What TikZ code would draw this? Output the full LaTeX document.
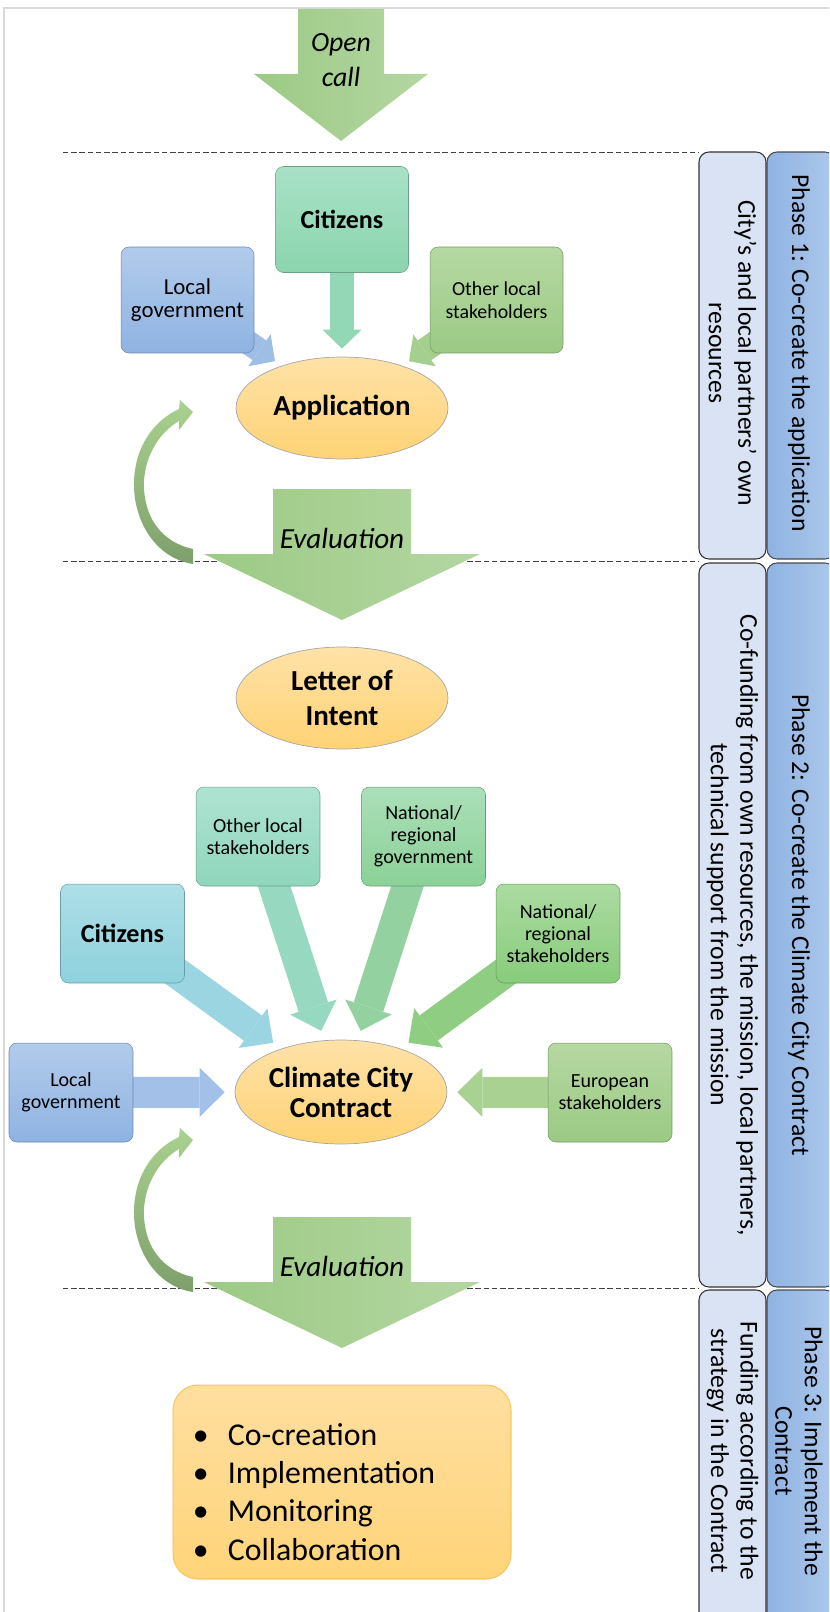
\documentclass[tikz,border=0pt]{standalone}
\usepackage{fontspec}
\setmainfont{Carlito}
\usetikzlibrary{arrows.meta,shapes.geometric,backgrounds}

\definecolor{framegray}{HTML}{D9D9D9}
\definecolor{govtop}{HTML}{B2CBEB}
\definecolor{govbot}{HTML}{8FB3E2}
\definecolor{citAtop}{HTML}{A9E1C7}
\definecolor{citAbot}{HTML}{8BD5AE}
\definecolor{olstop}{HTML}{B6D8A3}
\definecolor{olsbot}{HTML}{9BCA84}
\definecolor{citBtop}{HTML}{AEDFE7}
\definecolor{citBbot}{HTML}{8ED1DC}
\definecolor{othBtop}{HTML}{AFE3D2}
\definecolor{othBbot}{HTML}{8FD6BC}
\definecolor{ngovtop}{HTML}{ABDFB8}
\definecolor{ngovbot}{HTML}{8BD198}
\definecolor{nsttop}{HTML}{ABDBA0}
\definecolor{nstbot}{HTML}{88CC7C}
\definecolor{goaltop}{HTML}{FFE2A8}
\definecolor{goalbot}{HTML}{FFD375}
\definecolor{plantop}{HTML}{FFDFA0}
\definecolor{planbot}{HTML}{FFD479}
\definecolor{planline}{HTML}{F5C65A}
\definecolor{flowleft}{HTML}{9CCA85}
\definecolor{flowright}{HTML}{B4D6A2}
\definecolor{looptop}{HTML}{A9D18E}
\definecolor{loopbot}{HTML}{7E9F6C}
\definecolor{phasefill}{HTML}{DAE3F3}
\definecolor{phaseleft}{HTML}{8FB3E2}
\definecolor{phaseright}{HTML}{ADC8EB}
\definecolor{citAarrow}{HTML}{92D7B6}
\definecolor{govAarrow}{HTML}{9EBEE6}
\definecolor{othAarrow}{HTML}{A4CF8F}
\definecolor{citBarrow}{HTML}{9AD5E1}
\definecolor{othBarrow}{HTML}{97D8C1}
\definecolor{ngovarrow}{HTML}{93D2A0}
\definecolor{nstarrow}{HTML}{8FCE82}
\definecolor{govBarrow}{HTML}{A3C0E8}
\definecolor{eurarrow}{HTML}{A8D192}

\tikzset{
	actor/.style 2 args={rectangle, rounded corners=0.16cm, top color=#1, bottom color=#2, draw=#2!75!black, line width=0.3pt, align=center, inner sep=1pt},
	actorA/.style={minimum width=2.66cm, minimum height=2.12cm},
	actorB/.style={minimum width=2.48cm, minimum height=1.98cm, font=\fontsize{11.4}{12.6}\selectfont},
	milestone/.style={ellipse, minimum width=4.24cm, minimum height=2.04cm, inner sep=0pt, top color=goaltop, bottom color=goalbot, draw=black!35, line width=0.4pt, align=center, font=\bfseries\fontsize{16.5}{19.8}\selectfont},
	feedA/.style={line width=0.48cm, draw=#1, -{Triangle[length=0.38cm, width=0.78cm, line width=0pt]}, shorten >=0.16cm},
	feedB/.style={line width=0.62cm, draw=#1, -{Triangle[length=0.5cm, width=0.98cm, line width=0pt]}, shorten >=0.2cm},
	bigflow/.style={left color=flowleft, right color=flowright},
	loopback/.style={top color=looptop, bottom color=loopbot},
	divider/.style={dash pattern=on 0.11cm off 0.055cm, line width=0.5pt, black!75},
	phasein/.style={draw=black!80, line width=0.6pt, fill=phasefill, rounded corners=0.2cm},
	phaseout/.style={draw=black!70, line width=0.6pt, left color=phaseleft, right color=phaseright, rounded corners=0.2cm},
	phasetext/.style={rotate=-90, align=center, font=\fontsize{14.6}{16.8}\selectfont},
	flowtext/.style={align=center, font=\itshape\fontsize{16.6}{19.8}\selectfont},
	planbox/.style={rectangle, rounded corners=0.5cm, minimum width=6.76cm, minimum height=3.88cm, top color=plantop, bottom color=planbot, draw=planline, line width=0.6pt},
	plantext/.style={align=left, inner sep=0pt, font=\fontsize{18.1}{21.7}\selectfont},
}

\begin{document}
\begin{tikzpicture}[x=0.02cm, y=-0.02cm]
	\useasboundingbox (0,0) rectangle (829,1612);
	\clip (0,0) rectangle (829,1612);
	\draw[framegray, line width=1pt] (4,8) rectangle (840,1630);

	\draw[divider] (63,152) -- (699,152);
	\draw[divider] (63,561) -- (699,561);
	\draw[divider] (63,1288) -- (699,1288);

	\draw[phasein] (699,152) rectangle (766,559);
	\draw[phaseout] (767,152) rectangle (835,559);
	\draw[phasein] (699,563) rectangle (766,1287);
	\draw[phaseout] (767,563) rectangle (835,1287);
	\draw[phasein] (699,1290) rectangle (766,1630);
	\draw[phaseout] (767,1290) rectangle (835,1630);

	\node[phasetext] (resA) at (732.5,353) {City’s and local partners’ own\\resources};
	\node[phasetext] (phaseA) at (799,353) {Phase 1: Co-create the application};
	\node[phasetext] (resB) at (732.5,925) {Co-funding from own resources, the mission, local partners,\\technical support from the mission};
	\node[phasetext] (phaseB) at (799,925) {Phase 2: Co-create the Climate City Contract};
	\node[phasetext] (resC) at (732.5,1451) {Funding according to the\\strategy in the Contract};
	\node[phasetext] (phaseC) at (799,1451) {Phase 3: Implement the\\Contract};

	\shade[bigflow] (298,9) -- (384,9) -- (384,74) -- (428,74) -- (341,141) -- (254,74) -- (298,74) -- cycle;
	\node[flowtext, font=\itshape\fontsize{15.8}{19.8}\selectfont] (opencall) at (341,60) {Open\\call};

	\foreach \dy/\nm in {0/evalA,728/evalB}{
		\begin{scope}[shift={(0,\dy)}]
			\shade[bigflow] (273,489) -- (411,489) -- (411,554) -- (480,554) -- (342,620) -- (204,554) -- (273,554) -- cycle;
			\shade[loopback] (193,564) .. controls (155,558) and (133,520) .. (134,482) .. controls (135,445) and (155,420) .. (179,409) -- (180,400) -- (193,412) -- (179,430) -- (179,421) .. controls (160,432) and (145,455) .. (144,482) .. controls (143,515) and (160,542) .. (193,549) -- cycle;
			\node[flowtext, anchor=base] (\nm) at (342,548) {Evaluation};
		\end{scope}
	}

	\node[actor={citAtop}{citAbot}, actorA, font=\bfseries\fontsize{14.8}{17}\selectfont] (citA) at (342,219.5) {Citizens};
	\node[actor={govtop}{govbot}, actorA, font=\fontsize{13}{13.6}\selectfont] (govA) at (187.5,300) {Local\\government};
	\node[actor={olstop}{olsbot}, actorA, font=\fontsize{11.3}{13}\selectfont] (othA) at (496.5,300) {Other local\\stakeholders};
	\node[milestone] (app) at (342,408) {Application};
	\node[milestone] (loi) at (342,698) {Letter of\\Intent};

	\node[actor={citBtop}{citBbot}, actorB, font=\bfseries\fontsize{14.9}{17}\selectfont] (citB) at (122.5,933.5) {Citizens};
	\node[actor={othBtop}{othBbot}, actorB] (othB) at (258,836.5) {Other local\\stakeholders};
	\node[actor={ngovtop}{ngovbot}, actorB] (natgov) at (423.5,836.5) {National/\\regional\\government};
	\node[actor={nsttop}{nstbot}, actorB] (natst) at (558,933.5) {National/\\regional\\stakeholders};
	\node[actor={govtop}{govbot}, actorB] (govB) at (71,1092.5) {Local\\government};
	\node[actor={olstop}{olsbot}, actorB] (eur) at (610,1092.5) {European\\stakeholders};
	\node[milestone, minimum height=2.08cm, font=\bfseries\fontsize{16.5}{17}\selectfont] (ccc) at (341,1092) {Climate City\\Contract};

	\node[planbox] (plan) at (342,1482) {};
	\node[plantext, anchor=west] (tasks) at ([xshift=0.4cm, yshift=-0.2cm]plan.west) {\makebox[0.7cm][l]{\textbullet}Co-creation\\\makebox[0.7cm][l]{\textbullet}Implementation\\\makebox[0.7cm][l]{\textbullet}Monitoring\\\makebox[0.7cm][l]{\textbullet}Collaboration};

	\begin{pgfonlayer}{background}
		\draw[feedA=citAarrow] (citA.center) -- (app);
		\draw[feedA=govAarrow] (govA.center) -- (app);
		\draw[feedA=othAarrow] (othA.center) -- (app);
		\draw[feedB=citBarrow] (citB.center) -- (ccc);
		\draw[feedB=othBarrow] (othB.center) -- (ccc);
		\draw[feedB=ngovarrow] (natgov.center) -- (ccc);
		\draw[feedB=nstarrow] (natst.center) -- (ccc);
		\draw[feedB=govBarrow] (govB.center) -- (ccc);
		\draw[feedB=eurarrow] (eur.center) -- (ccc);
	\end{pgfonlayer}
\end{tikzpicture}
\end{document}
